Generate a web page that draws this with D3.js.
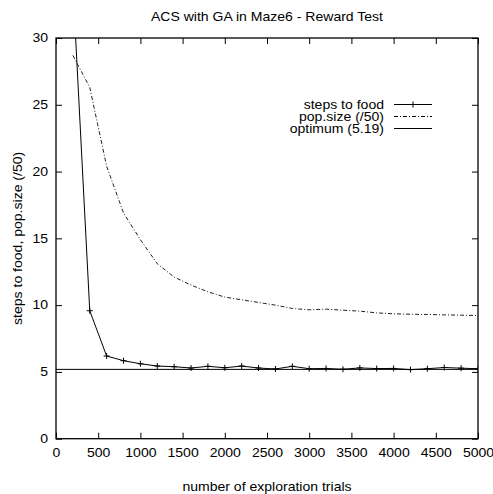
<!DOCTYPE html>
<html>
<head>
<meta charset="utf-8">
<script src="https://cdn.jsdelivr.net/npm/d3@7"></script>
<style>
  body { margin: 0; background: #fff; }
  svg text { font-family: "Liberation Sans", Arial, Helvetica, sans-serif; fill: #000; }
</style>
</head>
<body>
<div id="chart"></div>
<script>
const WIDTH = 493,
  HEIGHT = 494,
  MARGIN = { top: 38, right: 15, bottom: 55.3, left: 56 },
  FONT_SIZE = 12,
  TEXT_STRETCH = 1.17;   // the reference lettering is wider than it is tall

// exploration trials at which the test was run
const trials = [200, 400, 600, 800, 1000, 1200, 1400, 1600, 1800, 2000, 2200, 2400,
  2600, 2800, 3000, 3200, 3400, 3600, 3800, 4000, 4200, 4400, 4600, 4800, 5000];
const steps_to_food = [34, 9.58, 6.19, 5.84, 5.61, 5.44, 5.39, 5.29, 5.42, 5.31, 5.44, 5.29,
  5.22, 5.42, 5.24, 5.26, 5.2, 5.3, 5.25, 5.26, 5.17, 5.24, 5.33, 5.28, 5.24];
const pop_size = [28.7, 26.3, 20.4, 16.9, 14.9, 13.1, 12.1, 11.5, 11.0, 10.6, 10.4, 10.2,
  10.0, 9.75, 9.65, 9.7, 9.62, 9.55, 9.42, 9.35, 9.32, 9.3, 9.27, 9.25, 9.22];
const optimum = 5.19;
const x_ticks = [0, 500, 1000, 1500, 2000, 2500, 3000, 3500, 4000, 4500, 5000];
const y_ticks = [0, 5, 10, 15, 20, 25, 30];
const legend_labels = ["steps to food", "pop.size (/50)", "optimum (5.19)"];

const plot_w = WIDTH - MARGIN.left - MARGIN.right,
  plot_h = HEIGHT - MARGIN.top - MARGIN.bottom;

var svg = d3.select("#chart")
  .append("svg")
  .attr("width", WIDTH)
  .attr("height", HEIGHT);

var x = d3.scaleLinear().domain([0, 5000]).range([MARGIN.left, MARGIN.left + plot_w]);
var y = d3.scaleLinear().domain([0, 30]).range([MARGIN.top + plot_h, MARGIN.top]);

function label(parent, tx, ty, str, anchor, rotate) {
  return parent.append("text")
    .attr("transform", "translate(" + tx + "," + ty + ")" +
      (rotate ? " rotate(" + rotate + ")" : "") + " scale(" + TEXT_STRETCH + ",1)")
    .attr("text-anchor", anchor)
    .attr("font-size", FONT_SIZE)
    .text(str);
}

svg.append("clipPath").attr("id", "plot-clip")
  .append("rect")
  .attr("x", MARGIN.left).attr("y", MARGIN.top)
  .attr("width", plot_w).attr("height", plot_h);

// axes: ticks point inward, mirrored on top and right like gnuplot
function style_axis(g, hide_labels) {
  g.select(".domain").remove();
  g.selectAll(".tick line").attr("stroke", "#000").attr("stroke-width", 1);
  if (hide_labels) {
    g.selectAll(".tick text").remove();
    return;
  }
  g.selectAll(".tick text")
    .attr("font-size", FONT_SIZE).attr("fill", "#000")
    .each(function() {
      var t = d3.select(this), tx = +t.attr("x") || 0;
      t.attr("x", 0).attr("transform", "translate(" + tx + ",0) scale(" + TEXT_STRETCH + ",1)");
    });
}

svg.append("g")
  .attr("transform", "translate(0," + (MARGIN.top + plot_h) + ")")
  .call(d3.axisBottom(x).tickValues(x_ticks).tickSize(-6).tickPadding(10).tickFormat(d3.format("d")))
  .call(function(g) { style_axis(g, false); });
svg.append("g")
  .attr("transform", "translate(0," + MARGIN.top + ")")
  .call(d3.axisTop(x).tickValues(x_ticks).tickSize(-6))
  .call(function(g) { style_axis(g, true); });
svg.append("g")
  .attr("transform", "translate(" + MARGIN.left + ",0)")
  .call(d3.axisLeft(y).tickValues(y_ticks).tickSize(-6).tickPadding(8))
  .call(function(g) { style_axis(g, false); });
svg.append("g")
  .attr("transform", "translate(" + (MARGIN.left + plot_w) + ",0)")
  .call(d3.axisRight(y).tickValues(y_ticks).tickSize(-6))
  .call(function(g) { style_axis(g, true); });

svg.append("rect")
  .attr("x", MARGIN.left).attr("y", MARGIN.top)
  .attr("width", plot_w).attr("height", plot_h)
  .attr("fill", "none").attr("stroke", "#000").attr("stroke-width", 1.3);

var plot = svg.append("g").attr("clip-path", "url(#plot-clip)");

var line = d3.line()
  .x(function(d) { return x(d[0]); })
  .y(function(d) { return y(d[1]); });

var steps_data = trials.map(function(t, i) { return [t, steps_to_food[i]]; });
var pop_data = trials.map(function(t, i) { return [t, pop_size[i]]; });

plot.append("path")
  .attr("d", line([[0, optimum], [5000, optimum]]))
  .attr("fill", "none").attr("stroke", "#000").attr("stroke-width", 1);

plot.append("path")
  .attr("d", line(pop_data))
  .attr("fill", "none").attr("stroke", "#222").attr("stroke-width", 1)
  .attr("stroke-dasharray", "4,2,1,2");

plot.append("path")
  .attr("d", line(steps_data))
  .attr("fill", "none").attr("stroke", "#000").attr("stroke-width", 1);

function plus(g, cx, cy) {
  g.append("path")
    .attr("d", "M" + (cx - 3) + "," + cy + "H" + (cx + 3) + "M" + cx + "," + (cy - 3) + "V" + (cy + 3))
    .attr("stroke", "#000").attr("stroke-width", 1);
}
steps_data.forEach(function(d) { plus(plot, x(d[0]), y(d[1])); });

// legend
var legend = svg.append("g").attr("transform", "translate(384,108.5)");
legend_labels.forEach(function(str, i) {
  label(legend, 0, i * 12, str, "end");
  var sample = legend.append("path")
    .attr("d", "M10," + (i * 12 - 4) + "H48")
    .attr("fill", "none").attr("stroke", "#000").attr("stroke-width", 1);
  if (i === 1) sample.attr("stroke-dasharray", "4,2,1,2");
  if (i === 0) plus(legend, 29, -4);
});

label(svg, MARGIN.left + plot_w / 2, 21, "ACS with GA in Maze6 - Reward Test", "middle");
label(svg, MARGIN.left + plot_w / 2, 491, "number of exploration trials", "middle");
label(svg, 22, MARGIN.top + plot_h / 2, "steps to food, pop.size (/50)", "middle", -90);
</script>
</body>
</html>
